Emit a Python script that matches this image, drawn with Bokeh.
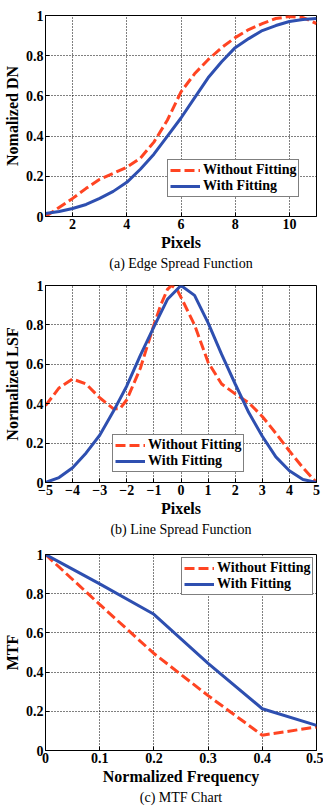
from bokeh.plotting import figure
from bokeh.layouts import column
from bokeh.models import Legend, LegendItem, FixedTicker, Title
from bokeh.embed import file_html
from bokeh.resources import INLINE

# (a) Edge spread function
esf_x = [1, 1.5, 2, 2.5, 3, 3.5, 4, 4.5, 5, 5.5, 6, 6.5, 7, 7.5, 8, 8.5, 9, 9.5, 10, 10.5, 11]
esf_raw = [0.0, 0.045, 0.09, 0.14, 0.185, 0.215, 0.245, 0.29, 0.37, 0.48, 0.62, 0.71, 0.78,
           0.84, 0.89, 0.93, 0.96, 0.985, 0.995, 0.99, 0.96]
esf_fit = [0.015, 0.025, 0.04, 0.06, 0.09, 0.125, 0.17, 0.235, 0.31, 0.40, 0.49, 0.59, 0.69,
           0.77, 0.84, 0.885, 0.925, 0.95, 0.97, 0.98, 0.985]

# (b) Line spread function
lsf_raw_x = [-5, -4.5, -4, -3.5, -3, -2.5, -2.25, -2, -1.5, -1, -0.75, -0.5, -0.35, -0.15, 0,
             0.5, 1, 1.5, 2, 2.5, 3, 3.5, 4, 4.5, 5]
lsf_raw = [0.39, 0.48, 0.525, 0.50, 0.43, 0.375, 0.375, 0.42, 0.58, 0.80, 0.90, 0.98, 1.0, 0.98,
           0.94, 0.80, 0.61, 0.50, 0.45, 0.405, 0.335, 0.25, 0.16, 0.075, 0.0]
lsf_fit_x = [-5, -4.5, -4, -3.5, -3, -2.5, -2, -1.5, -1, -0.5, 0, 0.5, 1, 1.5, 2, 2.5, 3, 3.5,
             4, 4.5, 5]
lsf_fit = [0.0, 0.025, 0.075, 0.15, 0.24, 0.36, 0.49, 0.645, 0.79, 0.93, 1.0, 0.95, 0.81, 0.65,
           0.50, 0.355, 0.235, 0.13, 0.06, 0.015, 0.0]

# (c) MTF
mtf_x = [0, 0.1, 0.2, 0.3, 0.4, 0.5]
mtf_raw = [1.0, 0.745, 0.495, 0.28, 0.078, 0.12]
mtf_fit = [1.0, 0.85, 0.695, 0.445, 0.213, 0.128]

y_ticks = [0, 0.2, 0.4, 0.6, 0.8, 1]
y_labels = {0: "0", 0.2: "0.2", 0.4: "0.4", 0.6: "0.6", 0.8: "0.8", 1: "1"}

RED = "#ff4422"
BLUE = "#2e4fb0"
FONT = "'Liberation Serif', 'Times New Roman', serif"
DASH = "10 4"


def panel(x_rng, x_ticks, x_labels, xlabel, ylabel, caption, height, top, bottom):
    p = figure(width=323, height=height, x_range=x_rng, y_range=(0, 1),
               output_backend="svg", toolbar_location=None,
               min_border_left=41, min_border_right=7,
               min_border_top=top, min_border_bottom=bottom)
    p.outline_line_color = "black"
    p.outline_line_width = 1
    p.background_fill_color = "white"
    p.border_fill_color = "white"
    for ax, ticks, labels, lab in ((p.xaxis[0], x_ticks, x_labels, xlabel),
                                   (p.yaxis[0], y_ticks, y_labels, ylabel)):
        ax.ticker = FixedTicker(ticks=ticks)
        ax.minor_tick_line_color = None
        ax.major_tick_in = 4
        ax.major_tick_out = 0
        ax.major_tick_line_color = "black"
        ax.axis_line_color = "black"
        ax.major_label_overrides = labels
        ax.major_label_text_font = FONT
        ax.major_label_text_font_style = "bold"
        ax.major_label_text_font_size = "14px"
        ax.major_label_text_color = "black"
        ax.major_label_standoff = 2
        ax.axis_label = lab
        ax.axis_label_text_font = FONT
        ax.axis_label_text_font_style = "bold"
        ax.axis_label_text_font_size = "16px"
        ax.axis_label_text_color = "black"
        ax.axis_label_standoff = 2
    for g in (p.xgrid[0], p.ygrid[0]):
        g.grid_line_color = "black"
        g.grid_line_dash = "1 2"
        g.grid_line_width = 1
        g.grid_line_alpha = 1.0
    p.xgrid[0].ticker = FixedTicker(ticks=x_ticks)
    p.ygrid[0].ticker = FixedTicker(ticks=y_ticks)
    p.add_layout(Title(text=caption, align="center", text_font=FONT,
                       text_font_style="normal", text_font_size="14px",
                       text_color="black", standoff=0), "below")
    return p


def add_legend(p, r_raw, r_fit, location):
    leg = Legend(items=[LegendItem(label="Without Fitting", renderers=[r_raw]),
                        LegendItem(label="With Fitting", renderers=[r_fit])],
                 location=location)
    leg.label_text_font = FONT
    leg.label_text_font_style = "bold"
    leg.label_text_font_size = "14px"
    leg.label_text_color = "black"
    leg.glyph_width = 30
    leg.glyph_height = 14
    leg.label_height = 14
    leg.label_standoff = 3
    leg.padding = 2
    leg.spacing = 0
    leg.margin = 0
    leg.border_line_color = "black"
    leg.border_line_width = 1
    leg.background_fill_color = "white"
    leg.background_fill_alpha = 1
    p.add_layout(leg, "center")


# panel (a)
pa = panel((1, 11), [2, 4, 6, 8, 10], {}, "Pixels", "Nomalized DN",
           "(a) Edge Spread Function", 272, 15, 56)
ra = pa.line(esf_x, esf_raw, line_color=RED, line_width=3, line_dash=DASH)
fa = pa.line(esf_x, esf_fit, line_color=BLUE, line_width=3)
add_legend(pa, ra, fa, (122, 19))

# panel (b)
pb = panel((-5, 5), list(range(-5, 6)), {}, "Pixels", "Normalized LSF",
           "(b) Line Spread Function", 268, 13, 58)
rb = pb.line(lsf_raw_x, lsf_raw, line_color=RED, line_width=3, line_dash=DASH)
fb = pb.line(lsf_fit_x, lsf_fit, line_color=BLUE, line_width=3)
add_legend(pb, rb, fb, (67, 10))

# panel (c)
mtf_ticks = [0, 0.1, 0.2, 0.3, 0.4, 0.5]
mtf_tick_labels = {0: "0", 0.1: "0.1", 0.2: "0.2", 0.3: "0.3", 0.4: "0.4", 0.5: "0.5"}
pc = panel((0, 0.5), mtf_ticks, mtf_tick_labels, "Normalized Frequency", "MTF",
           "(c) MTF Chart", 272, 14, 62)
rc = pc.line(mtf_x, mtf_raw, line_color=RED, line_width=3, line_dash=DASH)
fc = pc.line(mtf_x, mtf_fit, line_color=BLUE, line_width=3)
add_legend(pc, rc, fc, (136, 155))

layout = column(pa, pb, pc, spacing=0)
open("out.html", "w").write(file_html(layout, INLINE))
